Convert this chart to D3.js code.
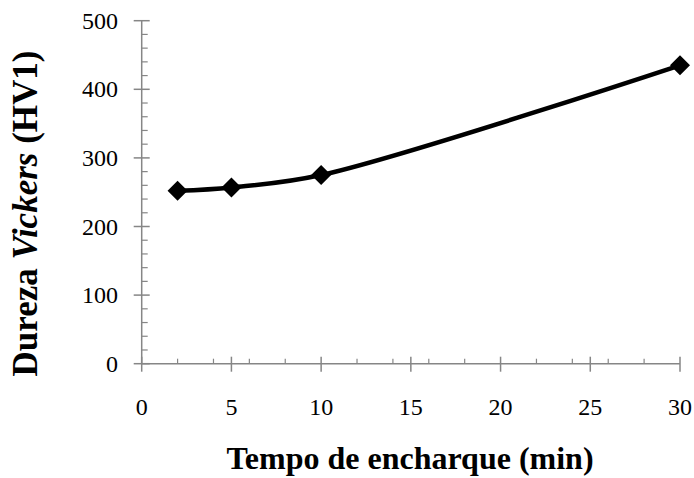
<!DOCTYPE html>
<html><head><meta charset="utf-8">
<script src="https://cdn.jsdelivr.net/npm/d3@7"></script>
<style>body{margin:0;background:#fff}svg{display:block}</style>
</head><body><svg id="c" width="694" height="478"></svg>
<script>
const xValues = [2, 5, 10, 30];
const yValues = [252, 257, 275, 435];
const xTicks = [0, 5, 10, 15, 20, 25, 30];
const yTicks = [0, 100, 200, 300, 400, 500];
const xTitle = "Tempo de encharque (min)";
const yTitleParts = ["Dureza ", "Vickers", " (HV1)"];

const FONT = "Liberation Serif";
const svg = d3.select("#c");
const x = d3.scaleLinear().domain([0, 30]).range([141.7, 680]);
const y = d3.scaleLinear().domain([0, 500]).range([363.7, 20.7]);
const axisColor = "#868686";

const xMinor = d3.range(0, 31, 2).filter(v => v % 5 !== 0);
const yMinor = d3.range(0, 501, 20).filter(v => v % 100 !== 0);

const g = svg.append("g");
g.append("line").attr("x1", x(0)).attr("x2", x(30)).attr("y1", y(0)).attr("y2", y(0))
  .attr("stroke", axisColor).attr("stroke-width", 1.5);
g.selectAll(".xmaj").data(xTicks).join("line")
  .attr("x1", d => x(d)).attr("x2", d => x(d)).attr("y1", y(0) - 7).attr("y2", y(0) + 8)
  .attr("stroke", axisColor).attr("stroke-width", 1.5);
g.selectAll(".xmin").data(xMinor).join("line")
  .attr("x1", d => x(d)).attr("x2", d => x(d)).attr("y1", y(0) - 5).attr("y2", y(0))
  .attr("stroke", axisColor).attr("stroke-width", 1.2);
g.append("line").attr("x1", x(0)).attr("x2", x(0)).attr("y1", y(0)).attr("y2", y(500))
  .attr("stroke", axisColor).attr("stroke-width", 1.5);
g.selectAll(".ymaj").data(yTicks).join("line")
  .attr("x1", x(0) - 8).attr("x2", x(0) + 8).attr("y1", d => y(d)).attr("y2", d => y(d))
  .attr("stroke", axisColor).attr("stroke-width", 1.5);
g.selectAll(".ymin").data(yMinor).join("line")
  .attr("x1", x(0)).attr("x2", x(0) + 6).attr("y1", d => y(d)).attr("y2", d => y(d))
  .attr("stroke", axisColor).attr("stroke-width", 1.2);

svg.selectAll(".xl").data(xTicks).join("text")
  .attr("x", d => x(d)).attr("y", 415).attr("text-anchor", "middle")
  .attr("font-family", FONT).attr("font-size", 24).attr("fill", "#000").text(d => d);
svg.selectAll(".yl").data(yTicks).join("text")
  .attr("x", 118).attr("y", d => y(d) + 8).attr("text-anchor", "end")
  .attr("font-family", FONT).attr("font-size", 24).attr("fill", "#000").text(d => d);

svg.append("text").attr("x", 410).attr("y", 469).attr("text-anchor", "middle")
  .attr("font-family", FONT).attr("font-size", 32).attr("font-weight", "bold").text(xTitle);
const yt = svg.append("text").attr("transform", "translate(37,213.5) rotate(-90)")
  .attr("text-anchor", "middle").attr("font-family", FONT).attr("font-size", 35).attr("font-weight", "bold");
yTitleParts.forEach((p, i) => yt.append("tspan").attr("font-family", FONT).attr("font-style", i === 1 ? "italic" : null).text(p));

const pts = xValues.map((v, i) => [v, yValues[i]]);
svg.append("path").datum(pts)
  .attr("d", d3.line().x(d => x(d[0])).y(d => y(d[1])).curve(d3.curveCatmullRom.alpha(0.5)))
  .attr("fill", "none").attr("stroke", "#000").attr("stroke-width", 4.5);
svg.selectAll(".m").data(pts).join("path")
  .attr("transform", d => `translate(${x(d[0])},${y(d[1])})`)
  .attr("d", "M0,-10L10,0L0,10L-10,0Z").attr("fill", "#000");
</script></body></html>
